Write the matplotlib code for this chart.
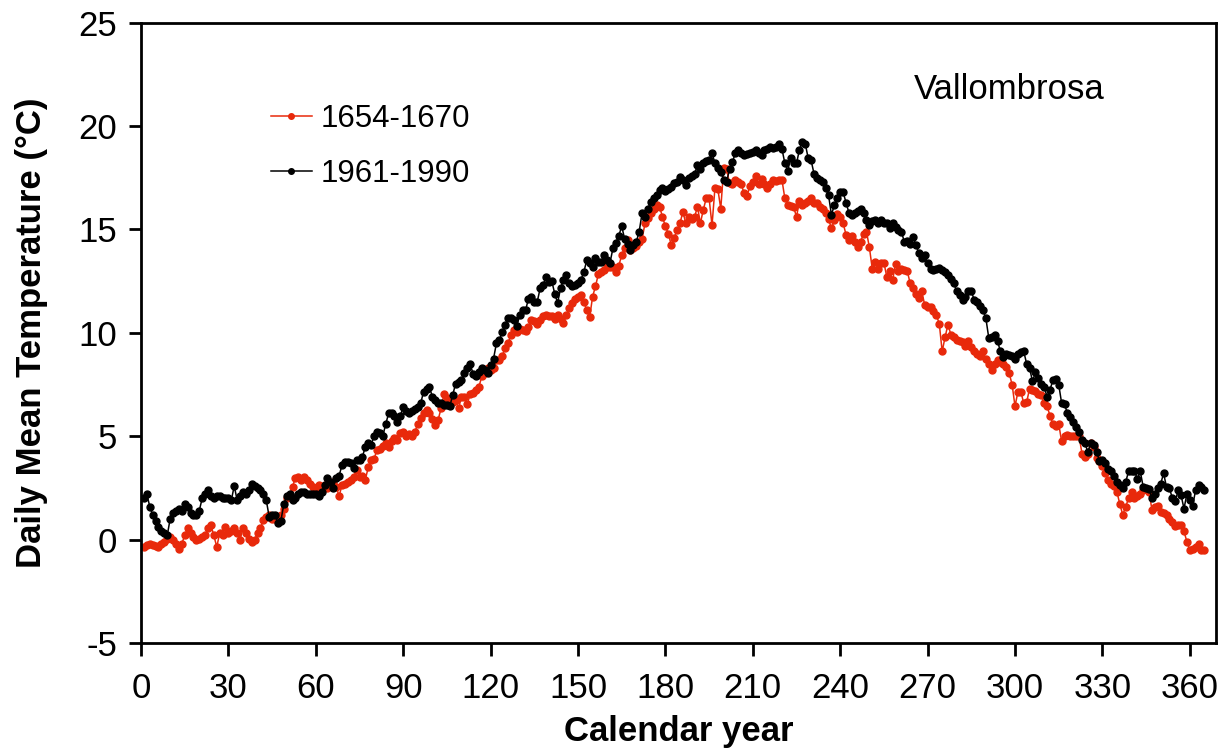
import matplotlib
matplotlib.use("Agg")
import matplotlib.pyplot as plt
import numpy as np

plt.rcParams['font.family'] = ['Liberation Sans', 'DejaVu Sans']
plt.rcParams['axes.unicode_minus'] = False

# Tagesmittel, Tag 1..365
days = np.arange(1, 366)

t_1961_1990 = [
    2.0, 2.2, 1.6, 1.2, 0.9, 0.6, 0.4, 0.3, 0.2, 1.0,
    1.3, 1.4, 1.5, 1.4, 1.7, 1.6, 1.3, 1.2, 1.2, 1.4,
    2.0, 2.2, 2.4, 2.1, 2.0, 2.1, 2.1, 2.0, 2.0, 2.0,
    1.9, 2.6, 1.9, 2.1, 2.3, 2.2, 2.4, 2.7, 2.6, 2.5,
    2.4, 2.2, 1.9, 1.1, 1.2, 1.2, 0.8, 0.9, 1.7, 2.1,
    2.2, 1.9, 2.0, 2.2, 2.3, 2.3, 2.2, 2.2, 2.2, 2.2,
    2.1, 2.3, 2.65, 3.0, 2.8, 2.5, 3.0, 3.1, 3.6, 3.75,
    3.75, 3.7, 3.45, 3.85, 3.85, 4.0, 4.5, 4.65, 4.6, 5.0,
    5.2, 5.15, 5.0, 5.6, 6.1, 6.1, 6.0, 5.7, 6.0, 6.4,
    6.2, 6.1, 6.2, 6.3, 6.4, 6.6, 7.15, 7.3, 7.4, 6.9,
    6.75, 6.6, 6.6, 6.5, 6.5, 6.45, 7.0, 7.55, 7.6, 7.7,
    8.05, 8.3, 8.5, 8.0, 7.9, 8.1, 8.3, 8.2, 8.05, 8.45,
    8.75, 9.5, 9.65, 10.05, 10.4, 10.7, 10.7, 10.6, 10.35, 10.85,
    11.1, 11.1, 11.65, 11.75, 11.5, 11.5, 12.15, 12.3, 12.7, 12.45,
    12.5, 11.9, 11.45, 12.15, 12.55, 12.8, 12.4, 12.25, 12.3, 12.4,
    12.55, 12.95, 13.5, 13.4, 13.2, 13.6, 13.45, 13.45, 13.75, 13.5,
    13.4, 14.1, 14.35, 14.7, 15.15, 14.55, 14.3, 14.0, 14.25, 14.4,
    14.9, 15.8, 15.6, 16.0, 16.35, 16.5, 16.65, 16.9, 17.0, 16.85,
    16.95, 17.05, 17.25, 17.3, 17.55, 17.4, 17.15, 17.5, 17.6, 17.7,
    18.1, 17.9, 18.2, 18.3, 18.35, 18.7, 18.2, 17.95, 17.8, 17.4,
    17.3, 17.9, 18.25, 18.7, 18.85, 18.7, 18.6, 18.65, 18.7, 18.75,
    18.85, 18.7, 18.6, 18.85, 18.9, 19.0, 18.95, 19.0, 19.15, 18.9,
    18.2, 17.85, 18.45, 18.2, 18.2, 18.85, 19.25, 19.15, 18.45, 18.35,
    17.7, 17.5, 17.4, 17.3, 17.0, 16.65, 15.7, 16.2, 16.5, 16.8,
    16.8, 16.3, 15.8, 15.7, 15.8, 15.9, 16.0, 15.8, 15.45, 15.2,
    15.4, 15.45, 15.3, 15.45, 15.3, 15.3, 15.05, 15.3, 15.1, 14.95,
    14.9, 14.4, 14.45, 14.3, 14.65, 14.25, 13.85, 13.6, 13.75, 13.4,
    13.1, 13.05, 13.1, 13.15, 13.05, 12.95, 12.8, 12.6, 12.4, 12.0,
    11.85, 11.6, 11.75, 12.0, 12.0, 11.6, 11.5, 11.3, 11.1, 10.7,
    9.75, 9.8, 9.9, 9.6, 9.1, 8.85, 9.0, 8.95, 8.9, 8.75,
    9.0, 9.05, 9.1, 8.5, 8.3, 7.65, 8.1, 7.8, 7.55, 7.4,
    6.9, 7.25, 7.7, 7.75, 7.5, 6.6, 6.55, 6.1, 5.95, 5.7,
    5.45, 5.2, 4.8, 4.65, 4.25, 4.65, 4.6, 4.25, 3.8, 3.85,
    3.7, 3.4, 3.3, 3.1, 2.8, 2.65, 2.5, 2.8, 3.3, 3.3,
    3.3, 2.95, 3.3, 2.55, 2.5, 2.45, 2.0, 2.2, 2.5, 2.7,
    3.2, 2.55, 2.5, 2.0, 1.85, 2.4, 2.15, 1.5, 2.2, 1.9,
    1.65, 2.4, 2.65, 2.55, 2.4,
]

t_1654_1670 = [
    -0.35, -0.25, -0.2, -0.25, -0.3, -0.35, -0.2, -0.1, 0.05, 0.15,
    0.0, -0.2, -0.45, -0.2, 0.2, 0.55, 0.3, 0.15, 0.0, 0.05,
    0.15, 0.2, 0.55, 0.7, 0.2, -0.35, 0.3, 0.2, 0.6, 0.3,
    0.4, 0.55, 0.3, 0.0, 0.55, 0.3, 0.05, -0.1, 0.0, 0.3,
    0.55, 0.95, 1.1, 1.2, 1.0, 1.0, 0.9, 1.2, 1.5, 2.0,
    2.1, 2.55, 3.0, 3.05, 2.9, 3.05, 2.9, 2.7, 2.55, 2.5,
    2.65, 2.55, 2.65, 2.5, 2.7, 2.8, 2.55, 2.1, 2.65, 2.7,
    2.8, 2.9, 3.05, 3.35, 3.05, 3.1, 2.9, 3.5, 3.85, 3.9,
    4.35, 4.4, 4.55, 4.65, 4.5, 4.75, 4.9, 4.8, 5.15, 5.2,
    5.0, 5.1, 5.0, 5.2, 5.6, 5.9, 6.1, 6.25, 6.1, 5.85,
    5.55, 5.8, 6.35, 7.05, 6.85, 6.6, 6.65, 6.75, 6.35, 6.9,
    6.9, 6.55, 7.05, 7.1, 7.25, 7.4, 7.9, 8.05, 8.3, 8.2,
    8.3, 8.7, 8.7, 8.9, 9.25, 9.5, 9.9, 10.15, 10.05, 10.2,
    10.15, 10.1, 10.3, 10.6, 10.55, 10.45, 10.6, 10.8, 10.85, 10.8,
    10.8, 10.65, 10.85, 10.65, 10.5, 10.85, 11.2, 11.45, 11.65, 11.75,
    11.85, 11.5, 11.1, 10.75, 11.75, 12.25, 12.85, 12.95, 13.05, 13.2,
    13.2, 13.2, 12.95, 13.25, 13.75, 14.1, 14.5, 14.0, 14.1, 14.2,
    14.4, 14.55, 15.3, 15.55, 15.8, 16.0, 16.2, 16.1, 15.6, 15.15,
    14.8, 14.25, 14.6, 14.95, 15.3, 15.85, 15.3, 15.6, 15.5, 15.6,
    16.1, 15.3, 15.95, 16.5, 16.5, 15.2, 17.0, 16.95, 16.0, 17.95,
    17.9, 17.25, 17.2, 17.4, 17.3, 17.2, 16.75, 16.6, 17.1, 17.3,
    17.6, 17.2, 17.45, 17.2, 17.0, 17.2, 17.4, 17.35, 17.4, 17.4,
    16.5, 16.2, 16.15, 16.1, 15.6, 16.4, 16.2, 16.3, 16.4, 16.5,
    16.3, 16.3, 16.1, 16.0, 15.8, 15.5, 15.05, 15.45, 15.75, 15.6,
    15.3, 14.75, 14.5, 14.7, 14.4, 14.15, 14.4, 14.8, 14.9, 14.15,
    13.1, 13.45, 13.1, 13.4, 13.4, 12.7, 13.0, 12.55, 13.35, 13.0,
    13.1, 13.05, 13.0, 12.4, 12.15, 11.9, 11.7, 12.0, 11.35, 11.25,
    11.25, 11.05, 10.85, 10.45, 9.1, 9.8, 10.4, 9.9, 9.8, 9.65,
    9.6, 9.55, 9.35, 9.6, 9.3, 9.1, 9.0, 8.9, 9.1, 8.75,
    8.5, 8.2, 8.5, 8.7, 8.6, 8.5, 8.35, 8.05, 7.5, 6.45,
    7.15, 7.15, 6.6, 6.65, 7.3, 7.25, 7.2, 7.05, 7.0, 6.6,
    6.45, 6.0, 5.6, 5.5, 5.6, 4.75, 5.0, 5.05, 5.0, 5.0,
    5.0, 5.0, 4.15, 4.0, 4.15, 4.65, 4.5, 3.95, 3.8, 3.55,
    3.2, 2.9, 2.7, 2.6, 2.3, 1.7, 1.2, 1.6, 2.0, 2.3,
    2.0, 2.1, 2.2, 2.4, 2.45, 2.3, 1.45, 1.6, 1.65, 1.35,
    1.3, 1.2, 1.0, 0.85, 0.65, 0.7, 0.7, 0.4, -0.1, -0.5,
    -0.45, -0.35, -0.2, -0.5, -0.5,
]

labels = ['1654-1670', '1961-1990']
colors = ['#e8290b', 'black']

fig = plt.figure(figsize=(12.23, 7.51), dpi=100)
ax = fig.add_axes([0.1153, 0.1438, 0.8790, 0.8260])

ax.plot(days, t_1654_1670, color=colors[0], lw=1.1, marker='o', ms=5,
        mec=colors[0], label=labels[0])
ax.plot(days, t_1961_1990, color=colors[1], lw=1.1, marker='o', ms=5,
        mec=colors[1], label=labels[1])

ax.set_xlim(0, 369)
ax.set_ylim(-5, 25)
ax.set_xticks(np.arange(0, 361, 30))
ax.set_yticks(np.arange(-5, 26, 5))
ax.tick_params(direction='out', length=9, width=2, labelsize=25)
ax.tick_params(axis='x', pad=12)
ax.tick_params(axis='y', pad=8)
for s in ax.spines.values():
    s.set_linewidth(2)

ax.set_xlabel('Calendar year', fontsize=25, fontweight='bold', labelpad=7)
ax.set_ylabel('Daily Mean Temperature (°C)', fontsize=25, fontweight='bold', labelpad=22)

ax.text(0.808, 0.892, 'Vallombrosa', transform=ax.transAxes, fontsize=25,
        ha='center', va='center')

ax.legend(loc='upper left', bbox_to_anchor=(0.121, 0.869), frameon=False,
          fontsize=22.5, handlelength=1.3, handletextpad=0.29, labelspacing=0.8,
          borderaxespad=0, borderpad=0, numpoints=1, markerscale=0.8)

fig.savefig('out.png', dpi=100)
